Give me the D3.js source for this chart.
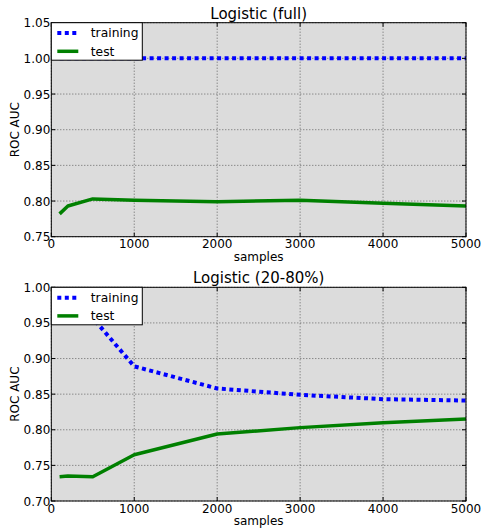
<!DOCTYPE html>
<html>
<head>
<meta charset="utf-8">
<script src="https://cdn.jsdelivr.net/npm/d3@7"></script>
<style>
  html, body { margin: 0; padding: 0; background: #fff; }
  svg { display: block; font-family: "DejaVu Sans", sans-serif; }
</style>
</head>
<body>
<div id="chart"></div>
<script>
  /* data */
  var samples = [100, 200, 500, 1000, 2000, 3000, 4000, 5000];
  var fullTrain = [1.0, 1.0, 1.0, 1.0, 1.0, 1.0, 1.0, 1.0];
  var fullTest = [0.782, 0.793, 0.803, 0.801, 0.799, 0.801, 0.797, 0.793];
  var midTrain = [0.99, 0.98, 0.957, 0.889, 0.858, 0.849, 0.843, 0.841];
  var midTest = [0.734, 0.735, 0.734, 0.765, 0.794, 0.803, 0.810, 0.815];
  var xTicks = [0, 1000, 2000, 3000, 4000, 5000];
  var yTicksFull = [0.75, 0.80, 0.85, 0.90, 0.95, 1.00, 1.05];
  var yTicksMid = [0.70, 0.75, 0.80, 0.85, 0.90, 0.95, 1.00];
  var seriesNames = ["training", "test"];

  var W = 482, H = 531;
  var svg = d3.select("#chart").append("svg")
    .attr("width", W).attr("height", H);

  function drawPanel(opts) {
    var x = d3.scaleLinear().domain([0, 5000]).range([51.3, 466]);
    var y = d3.scaleLinear().domain(opts.yDomain).range([opts.bottom, opts.top]);
    var g = svg.append("g");
    var x0 = x.range()[0], x1 = x.range()[1];

    /* background */
    g.append("rect")
      .attr("x", x0).attr("y", opts.top)
      .attr("width", x1 - x0).attr("height", opts.bottom - opts.top)
      .attr("fill", "#dcdcdc");

    /* grid */
    xTicks.forEach(function (t) {
      g.append("line")
        .attr("x1", x(t)).attr("x2", x(t))
        .attr("y1", opts.top).attr("y2", opts.bottom)
        .attr("stroke", "#333").attr("stroke-width", 0.7)
        .attr("stroke-dasharray", "1,2");
    });
    opts.yTicks.forEach(function (t) {
      g.append("line")
        .attr("x1", x0).attr("x2", x1)
        .attr("y1", y(t)).attr("y2", y(t))
        .attr("stroke", "#333").attr("stroke-width", 0.7)
        .attr("stroke-dasharray", "1,2");
    });

    /* lines */
    var line = d3.line()
      .x(function (d, i) { return x(samples[i]); })
      .y(function (d) { return y(d); });

    g.append("path")
      .attr("d", line(opts.test))
      .attr("fill", "none").attr("stroke", "#008000")
      .attr("stroke-width", 3.5).attr("stroke-linejoin", "round");

    g.append("path")
      .attr("d", line(opts.train))
      .attr("fill", "none").attr("stroke", "#0000ff")
      .attr("stroke-width", 4).attr("stroke-dasharray", "4,3.5");

    /* frame */
    g.append("rect")
      .attr("x", x0).attr("y", opts.top)
      .attr("width", x1 - x0).attr("height", opts.bottom - opts.top)
      .attr("fill", "none").attr("stroke", "#000").attr("stroke-width", 1);

    /* inner ticks on all four sides */
    xTicks.forEach(function (t) {
      g.append("line").attr("x1", x(t)).attr("x2", x(t))
        .attr("y1", opts.bottom).attr("y2", opts.bottom - 4)
        .attr("stroke", "#000");
      g.append("line").attr("x1", x(t)).attr("x2", x(t))
        .attr("y1", opts.top).attr("y2", opts.top + 4)
        .attr("stroke", "#000");
      g.append("text")
        .attr("x", x(t)).attr("y", opts.bottom + 11.5)
        .attr("text-anchor", "middle").attr("font-size", 12)
        .text(t);
    });
    opts.yTicks.forEach(function (t) {
      g.append("line").attr("x1", x0).attr("x2", x0 + 4)
        .attr("y1", y(t)).attr("y2", y(t)).attr("stroke", "#000");
      g.append("line").attr("x1", x1).attr("x2", x1 - 4)
        .attr("y1", y(t)).attr("y2", y(t)).attr("stroke", "#000");
      g.append("text")
        .attr("x", x0 - 1).attr("y", y(t) + 4.5)
        .attr("text-anchor", "end").attr("font-size", 12)
        .text(t.toFixed(2));
    });

    /* titles + axis labels */
    g.append("text")
      .attr("x", (x0 + x1) / 2).attr("y", opts.top - 4)
      .attr("text-anchor", "middle").attr("font-size", 15)
      .text(opts.title);
    g.append("text")
      .attr("x", (x0 + x1) / 2).attr("y", opts.bottom + 24)
      .attr("text-anchor", "middle").attr("font-size", 12)
      .text("samples");
    g.append("text")
      .attr("transform", "translate(18.5," + ((opts.top + opts.bottom) / 2) + ") rotate(-90)")
      .attr("text-anchor", "middle").attr("font-size", 12)
      .text("ROC AUC");

    /* legend */
    var lg = g.append("g").attr("transform", "translate(" + x0 + "," + opts.top + ")");
    lg.append("rect")
      .attr("x", 0).attr("y", 0).attr("width", 91).attr("height", 37.5)
      .attr("fill", "#fff").attr("stroke", "#000").attr("stroke-width", 1);
    var rows = [10.4, 28.6];
    seriesNames.forEach(function (name, i) {
      var ln = lg.append("line")
        .attr("x1", 6).attr("x2", 27)
        .attr("y1", rows[i]).attr("y2", rows[i]);
      if (i === 0) {
        ln.attr("stroke", "#0000ff").attr("stroke-width", 4)
          .attr("stroke-dasharray", "4,3.5");
      } else {
        ln.attr("stroke", "#008000").attr("stroke-width", 3.5);
      }
      lg.append("text")
        .attr("x", 39.5).attr("y", rows[i] + 4.3)
        .attr("font-size", 12.3)
        .text(name);
    });
  }

  drawPanel({
    title: "Logistic (full)",
    top: 22.7, bottom: 236.7,
    yDomain: [0.75, 1.05], yTicks: yTicksFull,
    train: fullTrain, test: fullTest
  });
  drawPanel({
    title: "Logistic (20-80%)",
    top: 287.3, bottom: 501,
    yDomain: [0.70, 1.00], yTicks: yTicksMid,
    train: midTrain, test: midTest
  });
</script>
</body>
</html>
